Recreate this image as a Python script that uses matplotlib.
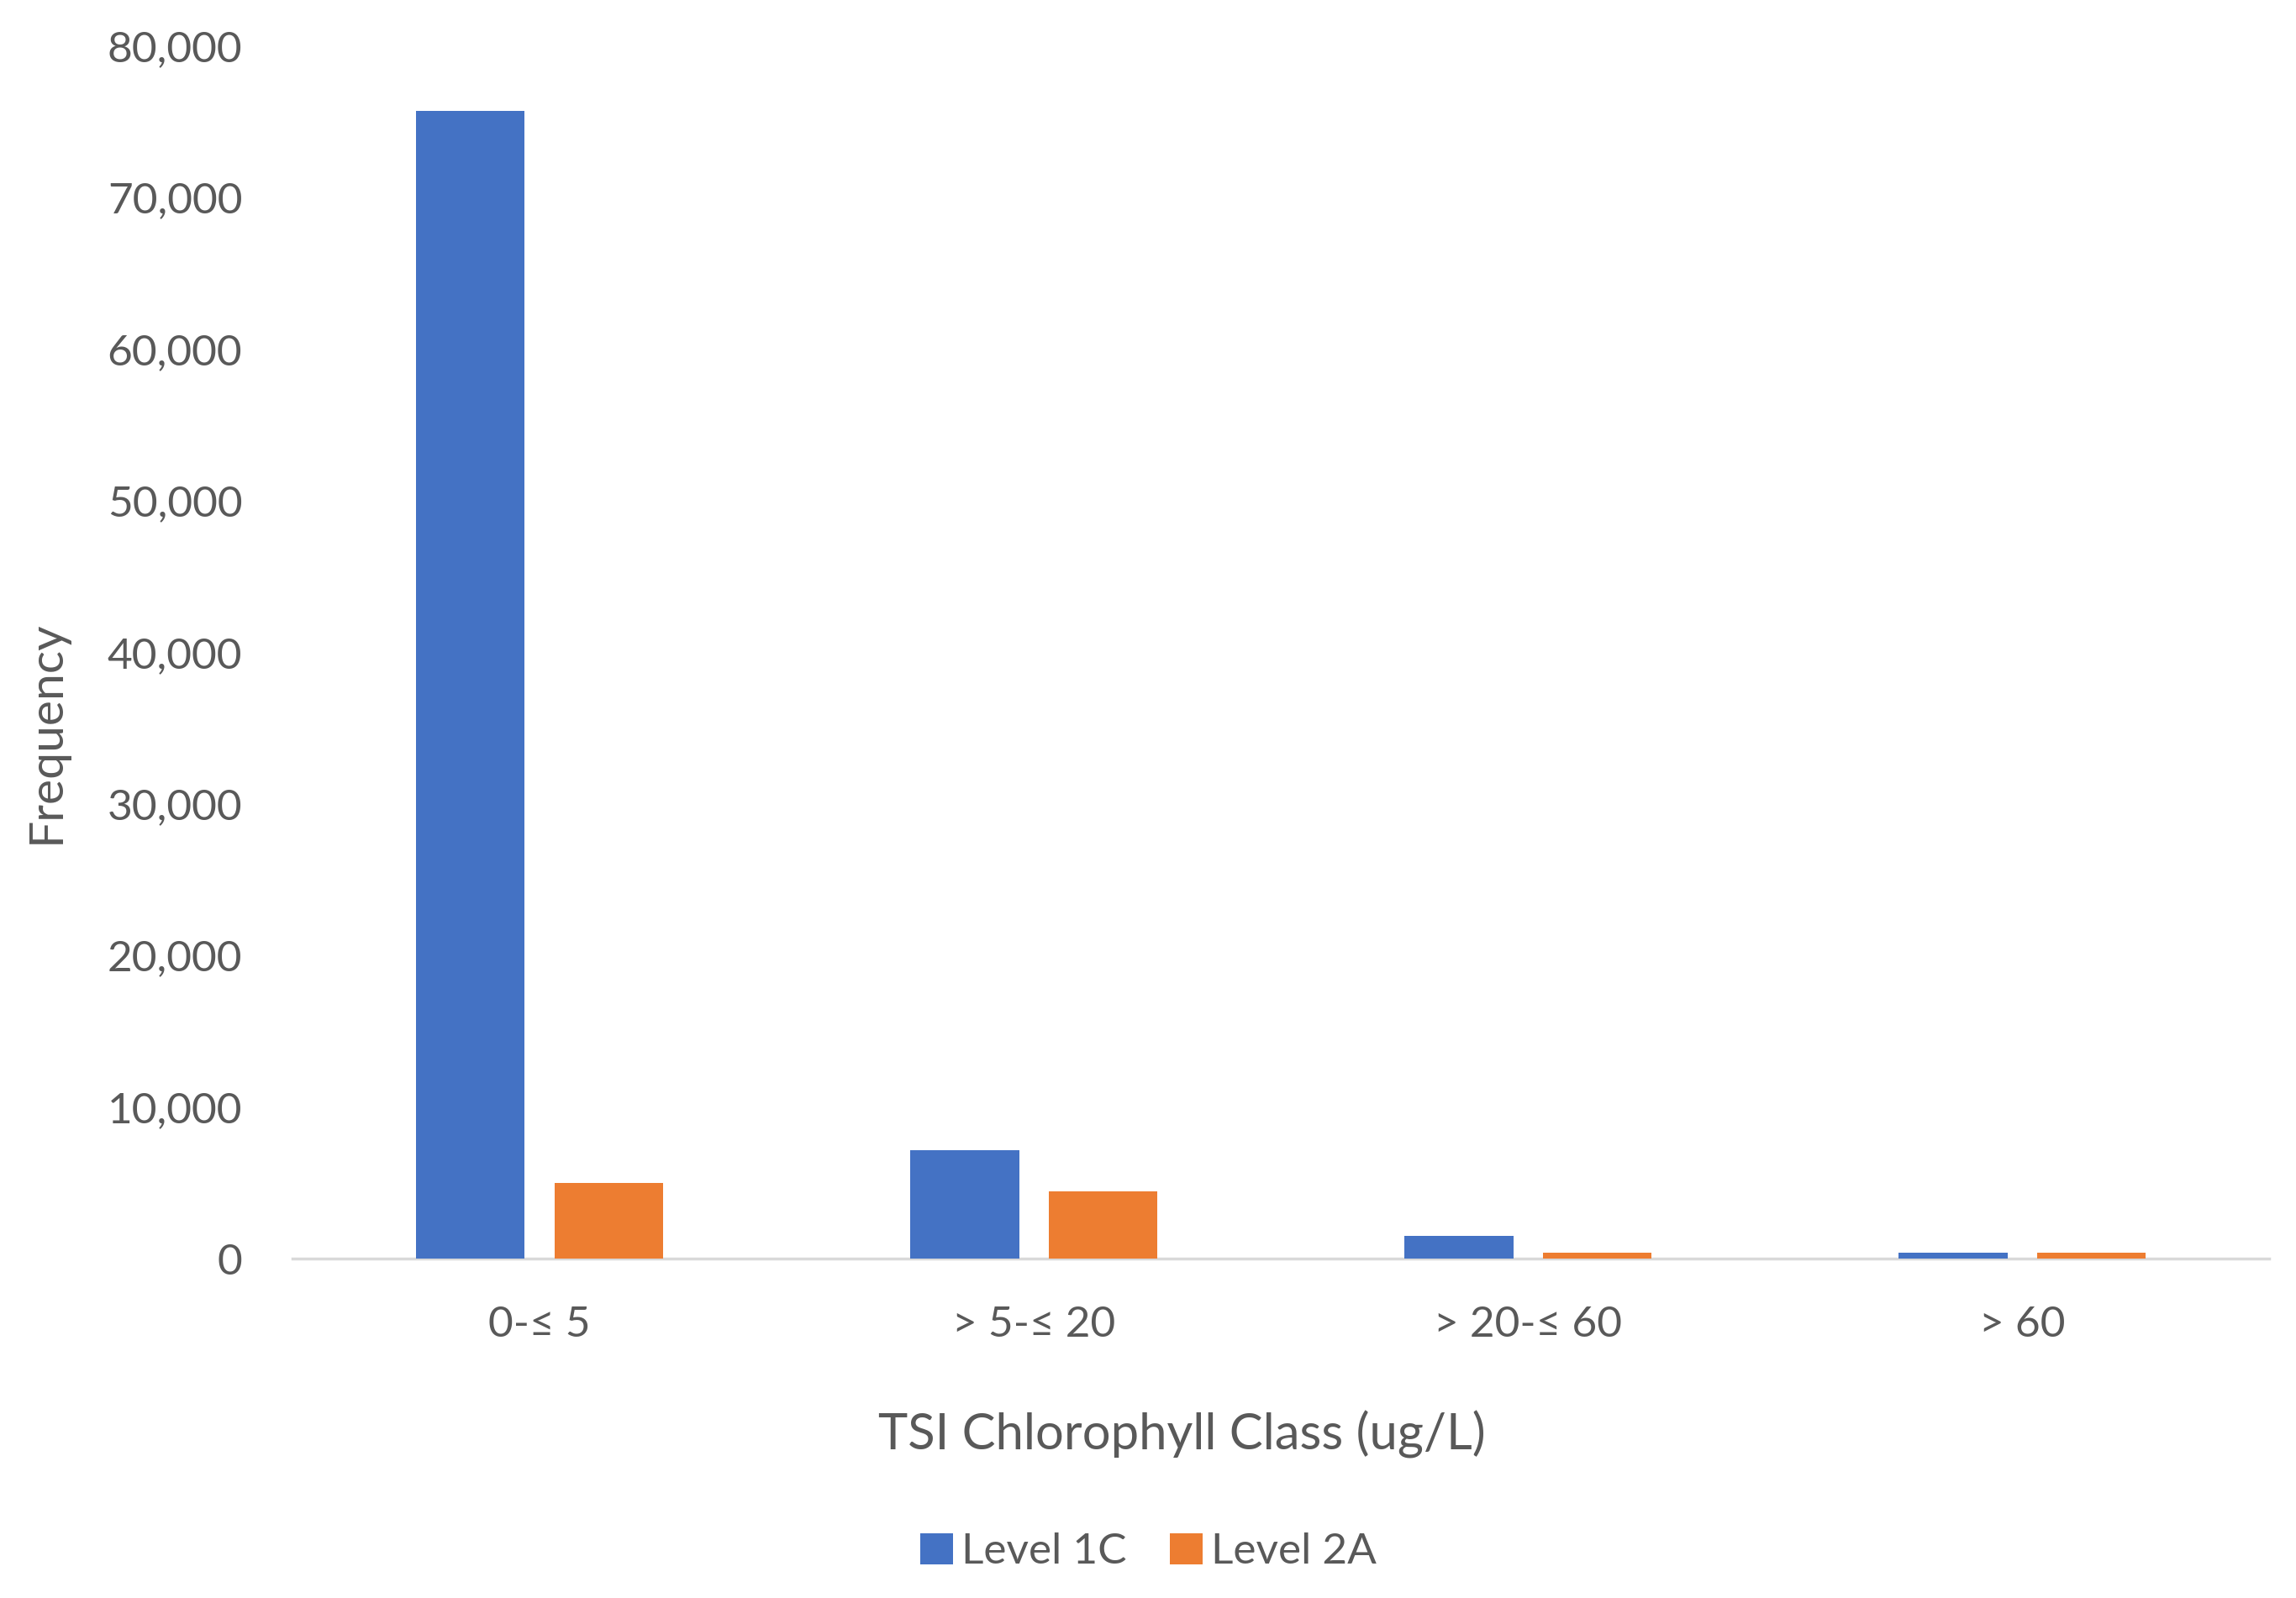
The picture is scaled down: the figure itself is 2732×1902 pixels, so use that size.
import numpy as np
import matplotlib.pyplot as plt
from matplotlib.ticker import FuncFormatter

plt.rcParams['font.family'] = ['Lato', 'DejaVu Sans']

# data
classes = ['0-\u2264 5', '> 5-\u2264 20', '> 20-\u2264 60', '> 60']
level_1c = [75700, 7150, 1500, 380]
level_2a = [5000, 4450, 380, 400]

blue = '#4472C4'
orange = '#ED7D31'
grey = '#595959'

fig = plt.figure(figsize=(27.32, 19.02), dpi=100)
ax = fig.add_axes([0.1274, 0.2124, 0.861, 0.759])

x = np.arange(len(classes))
w = 0.22
ax.bar(x - 0.14, level_1c, w, color=blue, label='Level 1C', zorder=3)
ax.bar(x + 0.14, level_2a, w, color=orange, label='Level 2A', zorder=3)

ax.set_xlim(-0.5, len(classes) - 0.5)
ax.set_ylim(0, 80000)
ax.set_yticks(np.arange(0, 80001, 10000))
ax.yaxis.set_major_formatter(FuncFormatter(lambda v, p: f'{int(v):,}'))
ax.set_xticks(x)
ax.set_xticklabels(classes)

for s in ['top', 'right', 'left']:
    ax.spines[s].set_visible(False)
ax.spines['bottom'].set_color('#d9d9d9')
ax.spines['bottom'].set_linewidth(2.5)
ax.tick_params(axis='both', length=0, labelsize=37, colors=grey)
ax.tick_params(axis='y', pad=43)
ax.tick_params(axis='x', pad=40)

# excel puts the titles a bit off-centre, so fix them in axes coords
ax.set_xlabel('TSI Chlorophyll Class (ug/L)', fontsize=43, color=grey, va='center')
ax.xaxis.set_label_coords(0.45, -0.145)
ax.set_ylabel('Frequency', fontsize=41, color=grey, va='center')
ax.yaxis.set_label_coords(-0.1245, 0.434)

ax.legend(loc='center', bbox_to_anchor=(0.433, -0.242), ncol=2, frameon=False,
          fontsize=37, labelcolor=grey, handlelength=0.75, handleheight=0.75,
          handletextpad=0.2, columnspacing=1.0)

fig.savefig('out.png', dpi=100)
